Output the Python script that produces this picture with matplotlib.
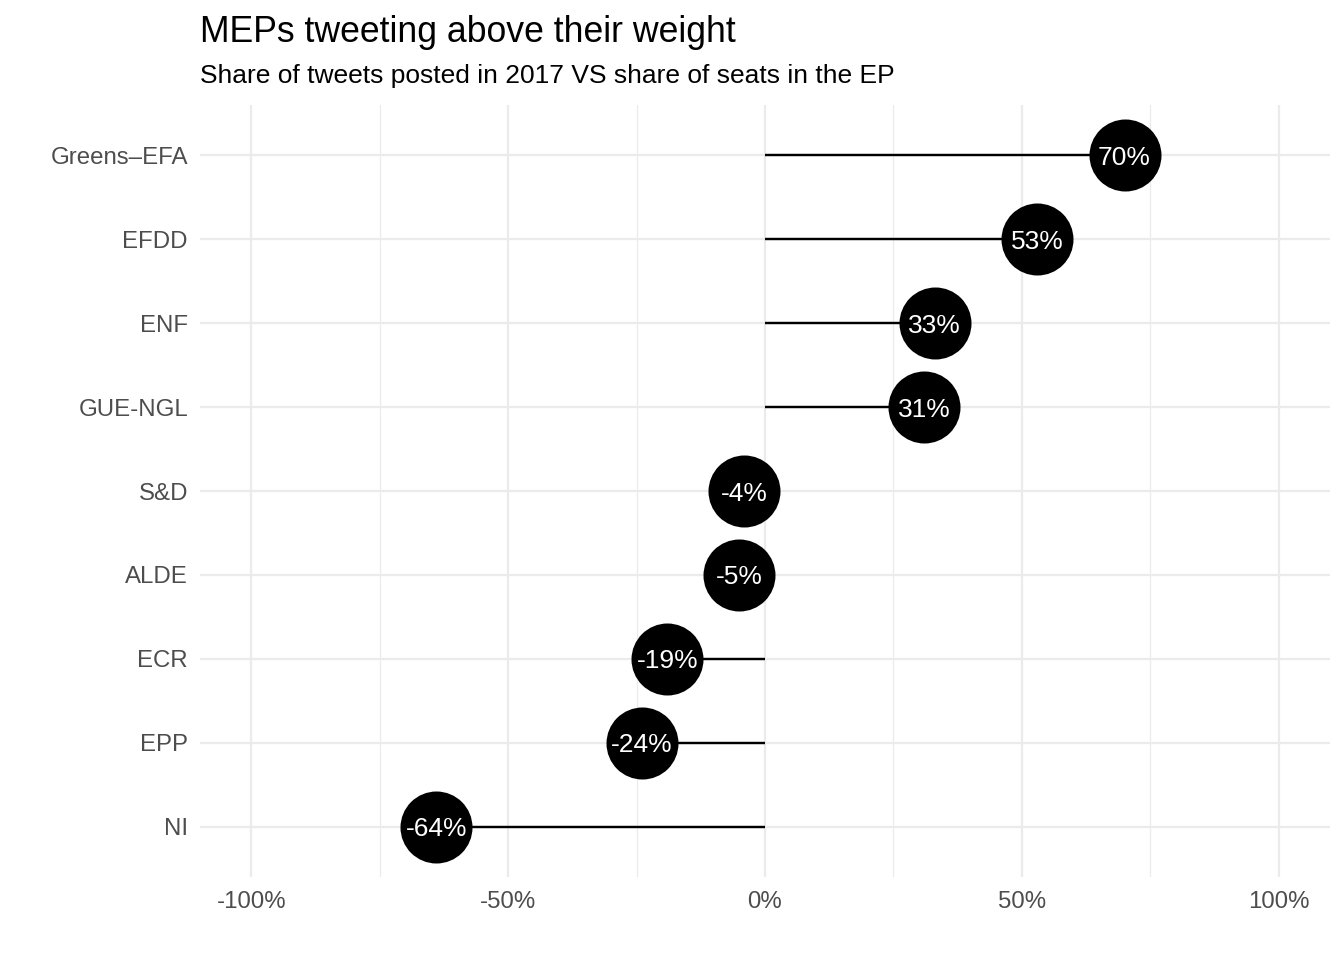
import matplotlib.pyplot as plt
from matplotlib.ticker import FixedLocator, FuncFormatter

plt.rcParams['font.family'] = ['Liberation Sans', 'DejaVu Sans']

# groups from bottom to top, difference between tweet share and seat share
groups = ['NI', 'EPP', 'ECR', 'ALDE', 'S&D', 'GUE-NGL', 'ENF', 'EFDD', 'Greens\u2013EFA']
diff = [-0.64, -0.24, -0.19, -0.05, -0.04, 0.31, 0.33, 0.53, 0.70]
labels = ['-64%', '-24%', '-19%', '-5%', '-4%', '31%', '33%', '53%', '70%']

major_x = [-1.0, -0.5, 0.0, 0.5, 1.0]
minor_x = [-0.75, -0.25, 0.25, 0.75]

fig = plt.figure(figsize=(1344 / 144, 960 / 144), dpi=144)
ax = fig.add_axes([200 / 1344, 1 - 877 / 960, 1130 / 1344, 772 / 960])

ypos = list(range(len(groups)))

grid = '#EBEBEB'
for x in minor_x:
    ax.axvline(x, color=grid, lw=0.6, zorder=0)
for x in major_x:
    ax.axvline(x, color=grid, lw=1.1, zorder=0)
for y in ypos:
    ax.axhline(y, color=grid, lw=1.1, zorder=0)

ax.hlines(ypos, 0, diff, color='black', lw=1.2, zorder=2)
ax.scatter(diff, ypos, s=36 ** 2, color='black', zorder=3, linewidths=0)
lab_size = 13.2
for x, y, t in zip(diff, ypos, labels):
    ax.annotate(t, (x, y), xytext=(0, -0.36 * lab_size), textcoords='offset points',
                color='white', fontsize=lab_size, ha='center', va='baseline', zorder=4)

ax.set_xlim(-1.1, 1.1)
ax.set_ylim(-0.6, len(groups) - 0.4)
ax.xaxis.set_major_locator(FixedLocator(major_x))
ax.xaxis.set_major_formatter(FuncFormatter(lambda v, p: f'{v * 100:.0f}%'))
ax.set_yticks(ypos)
ax.set_yticklabels(groups)
ax.tick_params(axis='both', length=0, labelsize=12, colors='#4D4D4D')
ax.tick_params(axis='y', pad=6)
ax.tick_params(axis='x', pad=7)
for s in ax.spines.values():
    s.set_visible(False)

fig.text(200 / 1344, 1 - 42 / 960, 'MEPs tweeting above their weight', fontsize=17.8, color='black', ha='left', va='baseline')
fig.text(200 / 1344, 1 - 83 / 960, 'Share of tweets posted in 2017 VS share of seats in the EP', fontsize=13.2, color='black', ha='left', va='baseline')

fig.savefig('out.png', dpi=144)
